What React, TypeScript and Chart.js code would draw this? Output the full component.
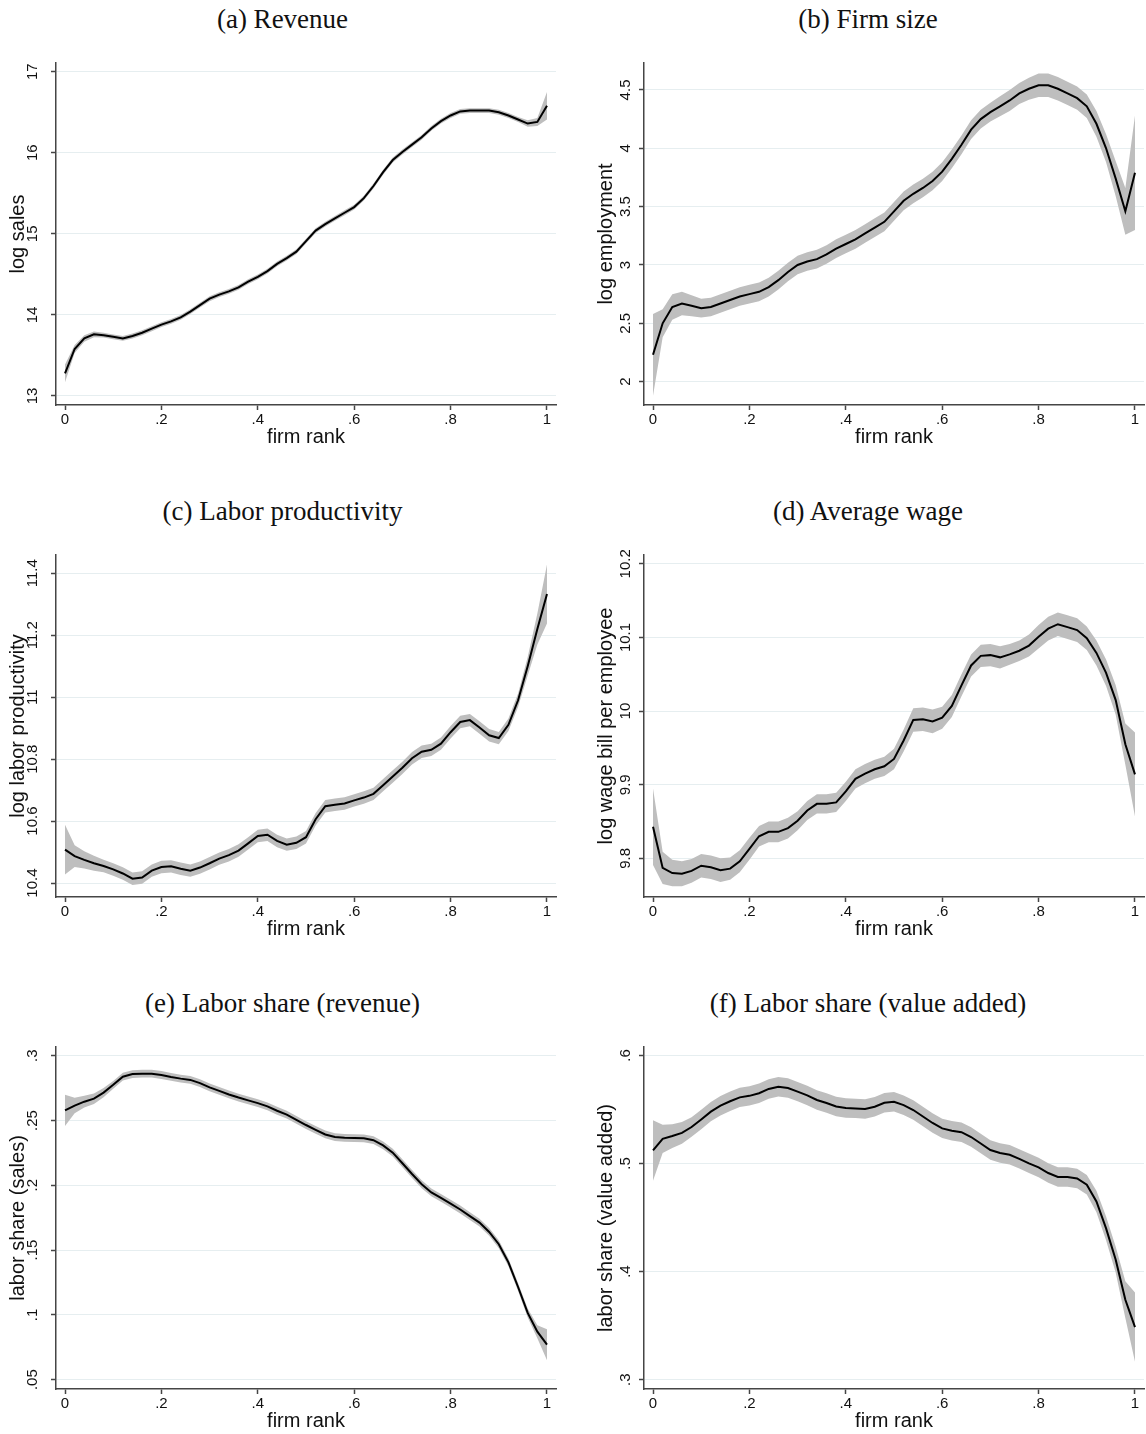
import React, { useEffect, useRef } from 'react';
import { Chart, registerables } from 'chart.js';

Chart.register(...registerables);

const SANS = '"Liberation Sans", Arial, Helvetica, sans-serif';
const SERIF = '"Liberation Serif", "Times New Roman", serif';

// Firm rank grid shared by every panel
const firmRank = [
  0, 0.02, 0.04, 0.06, 0.08, 0.1, 0.12, 0.14, 0.16, 0.18,
  0.2, 0.22, 0.24, 0.26, 0.28, 0.3, 0.32, 0.34, 0.36, 0.38,
  0.4, 0.42, 0.44, 0.46, 0.48, 0.5, 0.52, 0.54, 0.56, 0.58,
  0.6, 0.62, 0.64, 0.66, 0.68, 0.7, 0.72, 0.74, 0.76, 0.78,
  0.8, 0.82, 0.84, 0.86, 0.88, 0.9, 0.92, 0.94, 0.96, 0.98, 1,
];
const rankTicks = [0, 0.2, 0.4, 0.6, 0.8, 1];
const rankTickLabels = ['0', '.2', '.4', '.6', '.8', '1'];

// (a) Revenue
const logSales = [
  13.28, 13.58, 13.71, 13.76, 13.75, 13.73, 13.71, 13.74, 13.78, 13.83,
  13.88, 13.92, 13.97, 14.04, 14.12, 14.2, 14.25, 14.29, 14.34, 14.41,
  14.47, 14.54, 14.63, 14.7, 14.78, 14.91, 15.04, 15.12, 15.19, 15.26,
  15.33, 15.44, 15.59, 15.76, 15.91, 16.01, 16.1, 16.19, 16.3, 16.39,
  16.46, 16.51, 16.52, 16.52, 16.52, 16.5, 16.46, 16.41, 16.36, 16.38, 16.58,
];
const logSalesCI = [
  0.11, 0.05, 0.04, 0.035, 0.03, 0.03, 0.03, 0.03, 0.03, 0.03,
  0.03, 0.03, 0.03, 0.03, 0.03, 0.03, 0.03, 0.03, 0.03, 0.03,
  0.03, 0.03, 0.03, 0.03, 0.03, 0.03, 0.03, 0.03, 0.03, 0.03,
  0.03, 0.03, 0.03, 0.03, 0.03, 0.03, 0.03, 0.03, 0.03, 0.03,
  0.03, 0.03, 0.03, 0.03, 0.03, 0.03, 0.03, 0.03, 0.04, 0.05, 0.17,
];
const logSalesTicks = [13, 14, 15, 16, 17];
const logSalesTickLabels = ['13', '14', '15', '16', '17'];

// (b) Firm size
const logEmployment = [
  2.23, 2.5, 2.64, 2.67, 2.65, 2.63, 2.64, 2.67, 2.7, 2.73,
  2.75, 2.77, 2.81, 2.87, 2.94, 3.0, 3.03, 3.05, 3.09, 3.14,
  3.18, 3.22, 3.27, 3.32, 3.37, 3.46, 3.55, 3.61, 3.66, 3.72,
  3.8, 3.91, 4.03, 4.16, 4.25, 4.31, 4.36, 4.41, 4.47, 4.51,
  4.54, 4.54, 4.51, 4.47, 4.43, 4.36, 4.21, 4.0, 3.74, 3.46, 3.79,
];
const logEmploymentCI = [
  0.35, 0.12, 0.11, 0.1, 0.09, 0.08, 0.08, 0.08, 0.08, 0.08,
  0.08, 0.08, 0.08, 0.08, 0.08, 0.08, 0.08, 0.08, 0.08, 0.08,
  0.08, 0.08, 0.08, 0.08, 0.08, 0.08, 0.08, 0.08, 0.08, 0.08,
  0.08, 0.08, 0.08, 0.08, 0.08, 0.08, 0.085, 0.09, 0.09, 0.095,
  0.1, 0.1, 0.1, 0.1, 0.1, 0.1, 0.11, 0.12, 0.15, 0.2, 0.49,
];
const logEmploymentTicks = [2, 2.5, 3, 3.5, 4, 4.5];
const logEmploymentTickLabels = ['2', '2.5', '3', '3.5', '4', '4.5'];

// (c) Labor productivity
const logProductivity = [
  10.508, 10.487, 10.475, 10.464, 10.455, 10.444, 10.431, 10.414, 10.418, 10.44,
  10.452, 10.454, 10.446, 10.44, 10.45, 10.464, 10.479, 10.49, 10.505, 10.528,
  10.552, 10.556, 10.536, 10.524, 10.53, 10.548, 10.606, 10.648, 10.653, 10.657,
  10.667, 10.676, 10.688, 10.716, 10.744, 10.772, 10.803, 10.824, 10.83, 10.85,
  10.887, 10.92, 10.926, 10.902, 10.877, 10.868, 10.911, 10.99, 11.1, 11.22, 11.333,
];
const logProductivityCI = [
  0.08, 0.035, 0.028, 0.024, 0.02, 0.02, 0.02, 0.02, 0.02, 0.02,
  0.02, 0.02, 0.02, 0.02, 0.02, 0.02, 0.02, 0.02, 0.02, 0.02,
  0.02, 0.02, 0.02, 0.02, 0.02, 0.02, 0.02, 0.02, 0.02, 0.02,
  0.02, 0.02, 0.02, 0.02, 0.02, 0.02, 0.02, 0.02, 0.02, 0.02,
  0.02, 0.02, 0.02, 0.02, 0.02, 0.02, 0.02, 0.022, 0.03, 0.05, 0.095,
];
const logProductivityTicks = [10.4, 10.6, 10.8, 11, 11.2, 11.4];
const logProductivityTickLabels = ['10.4', '10.6', '10.8', '11', '11.2', '11.4'];

// (d) Average wage
const logWage = [
  9.843, 9.787, 9.78, 9.779, 9.783, 9.79, 9.788, 9.784, 9.786, 9.796,
  9.813, 9.83, 9.836, 9.836, 9.841, 9.851, 9.865, 9.874, 9.874, 9.876,
  9.891, 9.908, 9.915, 9.921, 9.925, 9.935, 9.96, 9.988, 9.989, 9.986,
  9.991, 10.007, 10.035, 10.062, 10.075, 10.076, 10.073, 10.077, 10.082, 10.089,
  10.101, 10.112, 10.118, 10.114, 10.11, 10.099, 10.079, 10.052, 10.015, 9.955, 9.914,
];
const logWageCI = [
  0.052, 0.022, 0.018, 0.017, 0.016, 0.016, 0.016, 0.016, 0.015, 0.015,
  0.015, 0.014, 0.014, 0.014, 0.014, 0.013, 0.013, 0.013, 0.013, 0.013,
  0.013, 0.013, 0.013, 0.013, 0.013, 0.014, 0.015, 0.016, 0.016, 0.016,
  0.015, 0.015, 0.015, 0.015, 0.015, 0.015, 0.015, 0.014, 0.014, 0.015,
  0.016, 0.016, 0.016, 0.016, 0.016, 0.016, 0.017, 0.018, 0.02, 0.028, 0.057,
];
const logWageTicks = [9.8, 9.9, 10, 10.1, 10.2];
const logWageTickLabels = ['9.8', '9.9', '10', '10.1', '10.2'];

// (e) Labor share of revenue
const shareSales = [
  0.2578, 0.2615, 0.2645, 0.2668, 0.2715, 0.2775, 0.2838, 0.2858, 0.2861, 0.2861,
  0.2851, 0.2836, 0.2823, 0.2813, 0.2788, 0.2755, 0.2728, 0.2701, 0.2677, 0.2655,
  0.2634, 0.2609, 0.2575, 0.2545, 0.2505, 0.2465, 0.2428, 0.2392, 0.2372, 0.2366,
  0.2364, 0.2362, 0.2348, 0.2308, 0.2252, 0.217, 0.2087, 0.2008, 0.1945, 0.1902,
  0.1858, 0.1813, 0.1762, 0.1712, 0.164, 0.1545, 0.1405, 0.1215, 0.1015, 0.087, 0.077,
];
const shareSalesCI = [
  0.012, 0.006, 0.0045, 0.004, 0.0035, 0.003, 0.003, 0.003, 0.003, 0.003,
  0.003, 0.003, 0.003, 0.003, 0.003, 0.003, 0.003, 0.003, 0.003, 0.003,
  0.003, 0.003, 0.003, 0.003, 0.003, 0.003, 0.003, 0.003, 0.003, 0.003,
  0.003, 0.003, 0.003, 0.003, 0.003, 0.003, 0.003, 0.003, 0.003, 0.003,
  0.003, 0.003, 0.003, 0.003, 0.003, 0.003, 0.003, 0.003, 0.0035, 0.005, 0.012,
];
const shareSalesTicks = [0.05, 0.1, 0.15, 0.2, 0.25, 0.3];
const shareSalesTickLabels = ['.05', '.1', '.15', '.2', '.25', '.3'];

// (f) Labor share of value added
const shareValueAdded = [
  0.5121, 0.5228, 0.5254, 0.5284, 0.5338, 0.5408, 0.548, 0.5535, 0.5576, 0.5612,
  0.5626, 0.565, 0.569, 0.571, 0.5698, 0.5665, 0.563, 0.5588, 0.556, 0.5528,
  0.5513, 0.551, 0.5505, 0.5525, 0.5562, 0.5572, 0.554, 0.5495, 0.5435, 0.5375,
  0.5325, 0.5304, 0.529, 0.5245, 0.5185, 0.5125, 0.5097, 0.5081, 0.5043, 0.5002,
  0.4964, 0.4912, 0.4876, 0.4875, 0.4862, 0.4804, 0.4649, 0.44, 0.411, 0.374, 0.3487,
];
const shareValueAddedCI = [
  0.028, 0.013, 0.011, 0.01, 0.009, 0.009, 0.009, 0.009, 0.009, 0.009,
  0.009, 0.009, 0.009, 0.009, 0.009, 0.009, 0.009, 0.009, 0.009, 0.009,
  0.009, 0.009, 0.009, 0.009, 0.009, 0.009, 0.009, 0.009, 0.009, 0.009,
  0.009, 0.009, 0.009, 0.009, 0.009, 0.009, 0.009, 0.009, 0.009, 0.009,
  0.009, 0.009, 0.009, 0.009, 0.009, 0.009, 0.01, 0.011, 0.012, 0.017, 0.032,
];
const shareValueAddedTicks = [0.3, 0.4, 0.5, 0.6];
const shareValueAddedTickLabels = ['.3', '.4', '.5', '.6'];

type PanelSpec = {
  key: string;
  title: string;
  yTitle: string;
  mean: number[];
  ci: number[];
  yMin: number;
  yMax: number;
  yTicks: number[];
  yTickLabels: string[];
  col: number;
  row: number;
};

const panels: PanelSpec[] = [
  { key: 'a', title: '(a) Revenue', yTitle: 'log sales', mean: logSales, ci: logSalesCI, yMin: 12.889, yMax: 17.107, yTicks: logSalesTicks, yTickLabels: logSalesTickLabels, col: 0, row: 0 },
  { key: 'b', title: '(b) Firm size', yTitle: 'log employment', mean: logEmployment, ci: logEmploymentCI, yMin: 1.8, yMax: 4.731, yTicks: logEmploymentTicks, yTickLabels: logEmploymentTickLabels, col: 1, row: 0 },
  { key: 'c', title: '(c) Labor productivity', yTitle: 'log labor productivity', mean: logProductivity, ci: logProductivityCI, yMin: 10.355, yMax: 11.459, yTicks: logProductivityTicks, yTickLabels: logProductivityTickLabels, col: 0, row: 1 },
  { key: 'd', title: '(d) Average wage', yTitle: 'log wage bill per employee', mean: logWage, ci: logWageCI, yMin: 9.7475, yMax: 10.212, yTicks: logWageTicks, yTickLabels: logWageTickLabels, col: 1, row: 1 },
  { key: 'e', title: '(e) Labor share (revenue)', yTitle: 'labor share (sales)', mean: shareSales, ci: shareSalesCI, yMin: 0.0428, yMax: 0.3067, yTicks: shareSalesTicks, yTickLabels: shareSalesTickLabels, col: 0, row: 2 },
  { key: 'f', title: '(f) Labor share (value added)', yTitle: 'labor share (value added)', mean: shareValueAdded, ci: shareValueAddedCI, yMin: 0.2914, yMax: 0.6078, yTicks: shareValueAddedTicks, yTickLabels: shareValueAddedTickLabels, col: 1, row: 2 },
];

// Layout of the 2 x 3 grid
const PLOT_TOPS = [63, 555, 1047];
const PLOT_HEIGHT = 342;
const PAD_TOP = 12;
const X_AXIS_HEIGHT = 48;
const Y_AXIS_WIDTH = 56;
const CANVAS_LEFT = [0, 588];
const CANVAS_WIDTH = [566, 558];
const PAD_RIGHT = [10, 2];
const TITLE_CENTER_X = [282.5, 868];
const TICK_LABEL_GAP = [23, 18];

const AXIS_COLOR = '#454545';
const GRID_COLOR = '#e6eef0';
const BAND_COLOR = '#bebebe';
const TEXT_COLOR = '#111111';
const TICK_FONT_SIZE = 15;

// Draws the y tick labels turned a quarter turn, reading upwards
const rotatedYTickLabels = {
  id: 'rotatedYTickLabels',
  afterDraw(chart: any, _args: any, opts: any) {
    const scale = chart.scales.y;
    const { ctx, chartArea } = chart;
    ctx.save();
    ctx.fillStyle = opts.color;
    ctx.font = `${opts.size}px ${SANS}`;
    ctx.textAlign = 'center';
    ctx.textBaseline = 'middle';
    scale.ticks.forEach((t: any, i: number) => {
      const y = scale.getPixelForValue(t.value);
      ctx.save();
      ctx.translate(chartArea.left - opts.gap, y);
      ctx.rotate(-Math.PI / 2);
      ctx.fillText(opts.labels[i], 0, 0);
      ctx.restore();
    });
    ctx.restore();
  },
};

function Panel({ spec }: { spec: PanelSpec }) {
  const canvasRef = useRef<HTMLCanvasElement | null>(null);
  const width = CANVAS_WIDTH[spec.col];
  const height = PAD_TOP + PLOT_HEIGHT + X_AXIS_HEIGHT;

  useEffect(() => {
    const canvas = canvasRef.current;
    if (!canvas) return;
    const upper = spec.mean.map((m, i) => ({ x: firmRank[i], y: m + spec.ci[i] }));
    const lower = spec.mean.map((m, i) => ({ x: firmRank[i], y: m - spec.ci[i] }));
    const line = spec.mean.map((m, i) => ({ x: firmRank[i], y: m }));

    const chart = new Chart(canvas, {
      type: 'line',
      data: {
        datasets: [
          {
            data: line,
            borderColor: '#000000',
            borderWidth: 2,
            pointRadius: 0,
            fill: false,
            tension: 0,
          },
          {
            data: upper,
            borderColor: 'rgba(0,0,0,0)',
            borderWidth: 0,
            pointRadius: 0,
            fill: false,
            tension: 0,
          },
          {
            data: lower,
            borderColor: 'rgba(0,0,0,0)',
            borderWidth: 0,
            pointRadius: 0,
            backgroundColor: BAND_COLOR,
            fill: '-1',
            tension: 0,
          },
        ],
      },
      options: {
        responsive: false,
        animation: false,
        events: [],
        layout: {
          padding: { top: PAD_TOP, right: PAD_RIGHT[spec.col], left: 0, bottom: 0 },
        },
        plugins: {
          legend: { display: false },
          tooltip: { enabled: false },
          rotatedYTickLabels: {
            labels: spec.yTickLabels,
            gap: TICK_LABEL_GAP[spec.col],
            size: TICK_FONT_SIZE,
            color: TEXT_COLOR,
          },
        } as any,
        scales: {
          x: {
            type: 'linear',
            min: -0.0187,
            max: 1.0187,
            afterBuildTicks: (s: any) => {
              s.ticks = rankTicks.map((v) => ({ value: v }));
            },
            afterFit: (s: any) => {
              s.height = X_AXIS_HEIGHT;
            },
            ticks: {
              autoSkip: false,
              maxRotation: 0,
              padding: 1,
              color: TEXT_COLOR,
              font: { family: SANS, size: TICK_FONT_SIZE },
              callback: (_v: any, i: number) => rankTickLabels[i],
            },
            grid: {
              drawOnChartArea: false,
              drawTicks: true,
              tickLength: 5,
              tickColor: AXIS_COLOR,
              tickWidth: 1.5,
            },
            border: { color: AXIS_COLOR, width: 1.5 },
            title: {
              display: true,
              text: 'firm rank',
              color: TEXT_COLOR,
              font: { family: SANS, size: 20 },
              padding: { top: 0, bottom: 4 },
            },
          },
          y: {
            type: 'linear',
            min: spec.yMin,
            max: spec.yMax,
            afterBuildTicks: (s: any) => {
              s.ticks = spec.yTicks.map((v) => ({ value: v }));
            },
            afterFit: (s: any) => {
              s.width = Y_AXIS_WIDTH;
            },
            ticks: { display: false },
            grid: {
              color: GRID_COLOR,
              lineWidth: 1,
              drawTicks: true,
              tickLength: 5,
              tickColor: AXIS_COLOR,
              tickWidth: 1.5,
            },
            border: { color: AXIS_COLOR, width: 1.5 },
            title: {
              display: true,
              text: spec.yTitle,
              color: TEXT_COLOR,
              font: { family: SANS, size: 20 },
              padding: { top: 6.5, bottom: 0 },
            },
          },
        },
      },
      plugins: [rotatedYTickLabels],
    } as any);

    return () => chart.destroy();
  }, [spec]);

  return (
    <>
      <div
        style={{
          position: 'absolute',
          left: TITLE_CENTER_X[spec.col],
          top: PLOT_TOPS[spec.row] - 44,
          transform: 'translate(-50%, -50%)',
          fontFamily: SERIF,
          fontSize: 27,
          lineHeight: 1,
          whiteSpace: 'nowrap',
          color: TEXT_COLOR,
        }}
      >
        {spec.title}
      </div>
      <canvas
        ref={canvasRef}
        width={width}
        height={height}
        style={{
          position: 'absolute',
          left: CANVAS_LEFT[spec.col],
          top: PLOT_TOPS[spec.row] - PAD_TOP,
          width,
          height,
        }}
      />
    </>
  );
}

export default function App() {
  return (
    <div
      style={{
        position: 'absolute',
        left: 0,
        top: 0,
        width: 1146,
        height: 1434,
        background: '#ffffff',
      }}
    >
      {panels.map((p) => (
        <Panel key={p.key} spec={p} />
      ))}
    </div>
  );
}
